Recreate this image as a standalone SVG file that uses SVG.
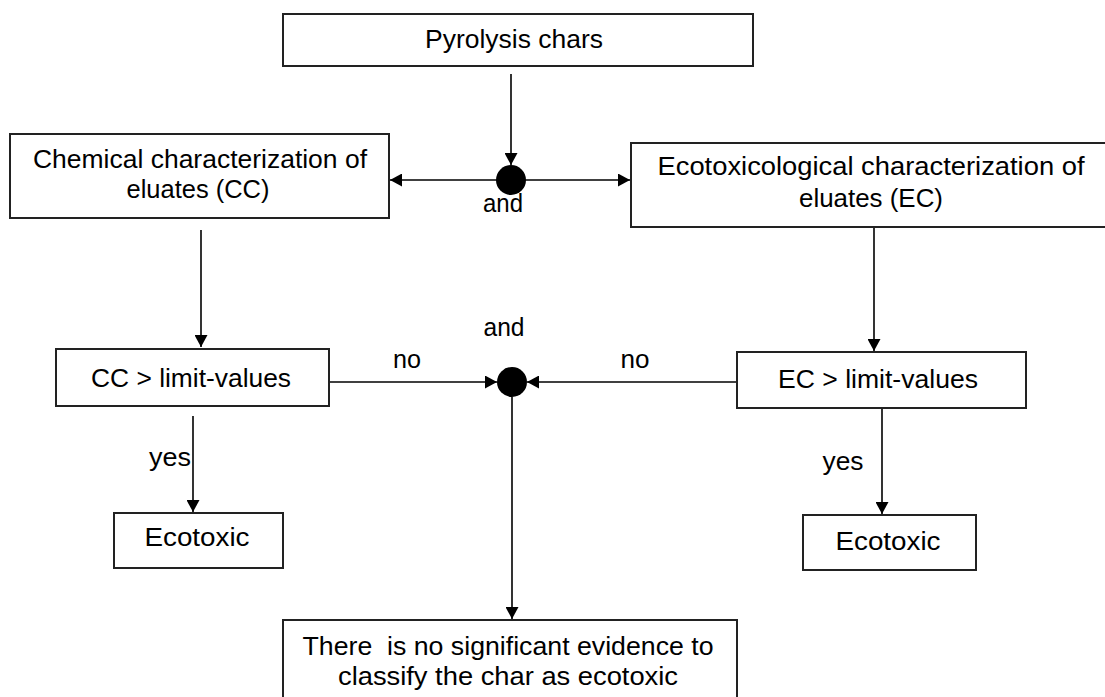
<svg xmlns="http://www.w3.org/2000/svg" width="1105" height="697" viewBox="0 0 1105 697">
<defs>
<marker id="ah" markerUnits="userSpaceOnUse" markerWidth="13" markerHeight="13" refX="12" refY="6.5" orient="auto">
<path d="M0,0 L12,6.5 L0,13 z" fill="#000"/>
</marker>
<style>
.box{fill:#fff;stroke:#222;stroke-width:2}
.t{font-family:"Liberation Sans",Arial,sans-serif;font-size:25px;fill:#000;text-anchor:middle}
.ln{stroke:#000;stroke-width:1.5;fill:none}
.arr{stroke:#000;stroke-width:1.6;fill:none;marker-end:url(#ah)}
</style>
</defs>
<rect width="1105" height="697" fill="#fff"/>
<g id="connectors">
<line class="arr" x1="511" y1="74" x2="511" y2="165"/>
<line class="arr" x1="500" y1="180" x2="390" y2="180"/>
<line class="arr" x1="522" y1="180" x2="630" y2="180"/>
<line class="arr" x1="201" y1="230" x2="201" y2="347"/>
<line class="arr" x1="874" y1="227" x2="874" y2="351"/>
<line class="arr" x1="329" y1="382" x2="497" y2="382"/>
<line class="arr" x1="737" y1="382" x2="527" y2="382"/>
<line class="arr" x1="512" y1="397" x2="512" y2="619"/>
<line class="arr" x1="193" y1="416" x2="193" y2="512"/>
<line class="arr" x1="882" y1="408" x2="882" y2="514"/>
<circle id="and1" cx="511" cy="180" r="15" fill="#000"/>
<circle id="and2" cx="512" cy="382" r="15" fill="#000"/>
<text class="t" x="503" y="212" textLength="40" lengthAdjust="spacingAndGlyphs">and</text>
<text class="t" x="504" y="336" textLength="41" lengthAdjust="spacingAndGlyphs">and</text>
<text class="t" x="407" y="368" textLength="28" lengthAdjust="spacingAndGlyphs">no</text>
<text class="t" x="635" y="368" textLength="29" lengthAdjust="spacingAndGlyphs">no</text>
<text class="t" x="170" y="466" textLength="42" lengthAdjust="spacingAndGlyphs">yes</text>
<text class="t" x="843" y="470" textLength="41" lengthAdjust="spacingAndGlyphs">yes</text>
</g>
<g id="pyrolysis">
<rect class="box" x="283" y="14" width="470" height="52"/>
<text class="t" x="514" y="48" textLength="178" lengthAdjust="spacingAndGlyphs">Pyrolysis chars</text>
</g>
<g id="cc">
<rect class="box" x="10" y="134" width="379" height="84"/>
<text class="t" x="200" y="168" textLength="334" lengthAdjust="spacingAndGlyphs">Chemical characterization of</text>
<text class="t" x="198" y="198" textLength="143" lengthAdjust="spacingAndGlyphs">eluates (CC)</text>
</g>
<g id="ec">
<rect class="box" x="631" y="143" width="490" height="84"/>
<text class="t" x="871" y="175" textLength="427" lengthAdjust="spacingAndGlyphs">Ecotoxicological characterization of</text>
<text class="t" x="871" y="207" textLength="144" lengthAdjust="spacingAndGlyphs">eluates (EC)</text>
</g>
<g id="cclimit">
<rect class="box" x="56" y="349" width="273" height="57"/>
<text class="t" x="191" y="387" textLength="200" lengthAdjust="spacingAndGlyphs">CC &gt; limit-values</text>
</g>
<g id="eclimit">
<rect class="box" x="737" y="352" width="289" height="56"/>
<text class="t" x="878" y="388" textLength="200" lengthAdjust="spacingAndGlyphs">EC &gt; limit-values</text>
</g>
<g id="ecotoxic1">
<rect class="box" x="114" y="513" width="169" height="55"/>
<text class="t" x="197" y="546" textLength="105" lengthAdjust="spacingAndGlyphs">Ecotoxic</text>
</g>
<g id="ecotoxic2">
<rect class="box" x="803" y="515" width="173" height="55"/>
<text class="t" x="888" y="550" textLength="105" lengthAdjust="spacingAndGlyphs">Ecotoxic</text>
</g>
<g id="result">
<rect class="box" x="283" y="620" width="454" height="90"/>
<text class="t" x="508" y="655" textLength="411" lengthAdjust="spacingAndGlyphs" xml:space="preserve">There  is no significant evidence to</text>
<text class="t" x="508" y="685" textLength="340" lengthAdjust="spacingAndGlyphs">classify the char as ecotoxic</text>
</g>
</svg>
